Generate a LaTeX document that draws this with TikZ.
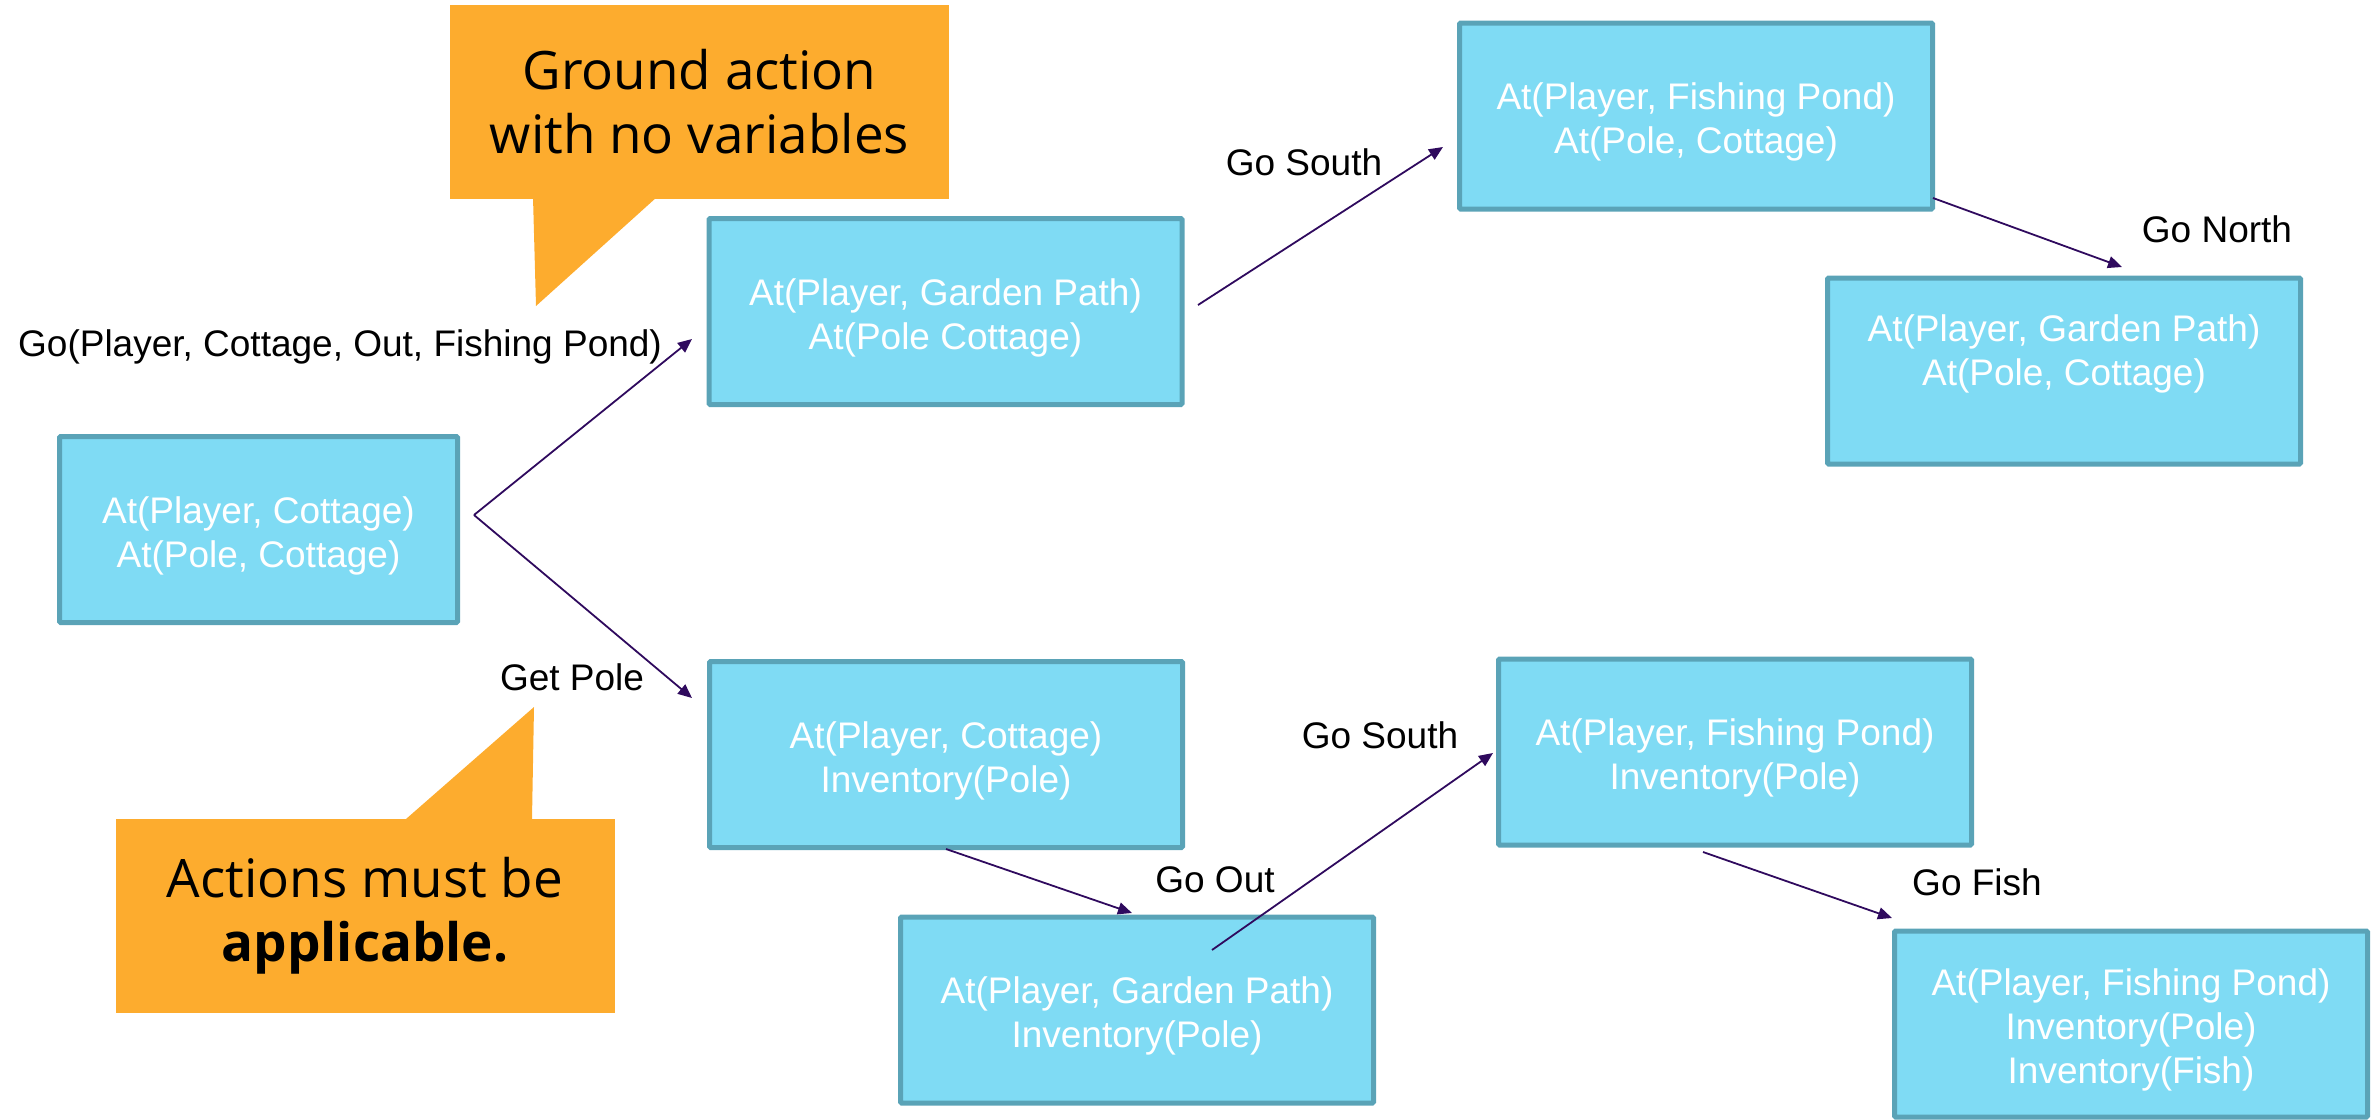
\documentclass[tikz,border=0pt]{standalone}
\usepackage{fontspec}
\setmainfont{Liberation Sans}
\newfontfamily\calloutfont{Open Sans}
\usetikzlibrary{arrows.meta}

\definecolor{statefill}{HTML}{7FDBF4}
\definecolor{stateedge}{HTML}{5AA3B7}
\definecolor{notefill}{HTML}{FDAC2E}
\definecolor{arrowcol}{HTML}{2F0A5E}

\begin{document}
\begin{tikzpicture}[x=0.5pt,y=-0.5pt,
  state/.style={draw=stateedge, fill=statefill, line width=2.5pt,
    rounded corners=0.6pt, minimum width=236.5pt, minimum height=93pt,
    inner sep=0pt, align=center, text=white, text height=41.5pt,
    font=\fontsize{18.5}{22}\selectfont},
  rootstate/.style={state, minimum width=199pt},
  actlabel/.style={anchor=base, inner sep=0pt, text=black,
    font=\fontsize{18.5}{22}\selectfont},
  trans/.style={draw=arrowcol, line width=0.9pt,
    -{Triangle[length=7pt,width=6pt]}},
  note/.style={fill=notefill, minimum width=249.5pt, minimum height=97pt,
    inner sep=0pt, align=center, text=black,
    font=\calloutfont\fontsize{26.5}{32}\selectfont},
  tail/.style={fill=notefill, draw=none}
]
\useasboundingbox (0,0) rectangle (2374,1120);

% callout notes
\node[note] (groundnote) at (699.5,102)
  {Ground action\\with no variables};
\fill[tail] (533,197) -- (536,306) -- (657,197) -- cycle;

\node[note] (applynote) at (365,916)
  {Actions must be\\\textbf{applicable.}};
\fill[tail] (406,819) -- (534,707) -- (532,819) -- cycle;

% states
\node[rootstate] (s0) at (258.5,529.5)
  {At(Player, Cottage)\\At(Pole, Cottage)};
\node[state] (s1) at (945.5,311.5)
  {At(Player, Garden Path)\\At(Pole Cottage)};
\node[state] (s2) at (946,754.5)
  {At(Player, Cottage)\\Inventory(Pole)};
\node[state] (s3) at (1696,116)
  {At(Player, Fishing Pond)\\At(Pole, Cottage)};
\node[state, text height=58pt] (s4) at (2064,371)
  {At(Player, Garden Path)\\At(Pole, Cottage)\\\mbox{}};
\node[state] (s5) at (1735,752)
  {At(Player, Fishing Pond)\\Inventory(Pole)};
\node[state] (s6) at (1137,1010)
  {At(Player, Garden Path)\\Inventory(Pole)};
\node[state, text height=63.5pt] (s7) at (2131,1024)
  {At(Player, Fishing Pond)\\Inventory(Pole)\\Inventory(Fish)};

% connector end points
\coordinate (fork) at (474,515);
\coordinate (s1in) at (692,339);
\coordinate (s2in) at (692,698);
\coordinate (s1out) at (1198,305);
\coordinate (s3in) at (1443,147);
\coordinate (s3out) at (1933,198);
\coordinate (s4in) at (2122,267);
\coordinate (s2out) at (946,849);
\coordinate (s6in) at (1132,913);
\coordinate (s6out) at (1212,950);
\coordinate (s5in) at (1493,753);
\coordinate (s5out) at (1703,852);
\coordinate (s7in) at (1892,918);

% transitions
\draw[trans] (fork) -- (s1in);
\draw[trans] (fork) -- (s2in);
\draw[trans] (s1out) -- (s3in);
\draw[trans] (s3out) -- (s4in);
\draw[trans] (s2out) -- (s6in);
\draw[trans] (s6out) -- (s5in);
\draw[trans] (s5out) -- (s7in);

% action labels
\node[actlabel] (lgo) at (340,356) {Go(Player, Cottage, Out, Fishing Pond)};
\node[actlabel] (lget) at (572,690) {Get Pole};
\node[actlabel] (lsouth1) at (1304,175) {Go South};
\node[actlabel] (lnorth) at (2217,242) {Go North};
\node[actlabel] (lsouth2) at (1380,748) {Go South};
\node[actlabel] (lout) at (1215,892) {Go Out};
\node[actlabel] (lfish) at (1977,895) {Go Fish};
\end{tikzpicture}
\end{document}
